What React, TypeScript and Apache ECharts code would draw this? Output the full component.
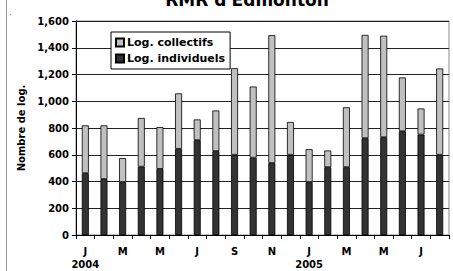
import React, { useEffect, useRef } from "react";
import * as echarts from "echarts";

const months = ["J", "F", "M", "A", "M", "J", "J", "A", "S", "O", "N", "D", "J", "F", "M", "A", "M", "J", "J", "A"];
const years = ["2004", "", "", "", "", "", "", "", "", "", "", "", "2005", "", "", "", "", "", "", ""];
const individuels = [462, 418, 395, 511, 494, 644, 709, 627, 600, 578, 538, 600, 395, 507, 507, 724, 731, 776, 751, 600];
const collectifs = [358, 402, 180, 364, 313, 415, 155, 304, 647, 532, 956, 245, 247, 125, 448, 772, 759, 402, 195, 645];
const yTicks = { min: 0, max: 1600, interval: 200 };

const FONT = "DejaVu Sans";

export default function App() {
  const ref = useRef<HTMLDivElement>(null);
  useEffect(() => {
    const chart = echarts.init(ref.current!, null, { renderer: "svg" });
    const cats = months.map((m, i) => (years[i] ? m + "\n" + years[i] : m));
    chart.setOption({
      animation: false,
      backgroundColor: "#fff",
      textStyle: { fontFamily: FONT },
      title: {
        text: "RMR d'Edmonton",
        left: 242,
        textAlign: "center",
        top: -14,
        textStyle: { fontFamily: FONT, fontWeight: "bold", fontSize: 17, color: "#000" },
      },
      grid: {
        left: 76,
        top: 21,
        right: 4,
        bottom: 35,
        show: true,
        borderColor: "#8a8a8a",
        borderWidth: 1,
      },
      legend: {
        left: 111,
        top: 32,
        orient: "vertical",
        backgroundColor: "#fff",
        borderColor: "#000",
        borderWidth: 1,
        padding: [5, 5, 5, 4],
        itemGap: 5,
        itemWidth: 8,
        itemHeight: 8,
        icon: "rect",
        data: ["Log. collectifs", "Log. individuels"],
        textStyle: { fontFamily: FONT, fontWeight: "bold", fontSize: 11, color: "#000", padding: [0, 0, 0, -2] },
      },
      xAxis: {
        type: "category",
        data: cats,
        axisLine: { lineStyle: { color: "#000", width: 1 } },
        axisTick: { show: true, interval: 0, length: 4, lineStyle: { color: "#000" } },
        axisLabel: {
          interval: 1,
          margin: 10,
          fontFamily: FONT,
          fontWeight: "bold",
          fontSize: 10,
          lineHeight: 13,
          color: "#000",
        },
      },
      yAxis: {
        type: "value",
        min: yTicks.min,
        max: yTicks.max,
        interval: yTicks.interval,
        name: "Nombre de log.",
        nameLocation: "middle",
        nameGap: 48,
        nameRotate: 90,
        nameTextStyle: { fontFamily: FONT, fontWeight: "bold", fontSize: 10, color: "#000" },
        axisLine: { show: true, lineStyle: { color: "#000" } },
        axisTick: { show: true, length: 4, lineStyle: { color: "#000" } },
        splitLine: { show: true, lineStyle: { color: "#222", width: 1 } },
        axisLabel: {
          margin: 7,
          fontFamily: FONT,
          fontWeight: "bold",
          fontSize: 10,
          color: "#000",
          formatter: (v: number) => v.toLocaleString("en-US"),
        },
      },
      series: [
        {
          name: "Log. individuels",
          type: "bar",
          stack: "t",
          data: individuels,
          barWidth: 7,
          itemStyle: { color: "#333333", borderColor: "#000", borderWidth: 0.8 },
        },
        {
          name: "Log. collectifs",
          type: "bar",
          stack: "t",
          data: collectifs,
          barWidth: 7,
          itemStyle: { color: "#c0c0c0", borderColor: "#000", borderWidth: 0.8 },
        },
      ],
      graphic: [
        { type: "line", shape: { x1: 6.5, y1: 0, x2: 6.5, y2: 271 }, style: { stroke: "#999", lineWidth: 1 } },
        { type: "rect", shape: { x: 10, y: 14, width: 1, height: 1 }, style: { fill: "#999" } },
      ],
    });
    return () => chart.dispose();
  }, []);
  return <div ref={ref} style={{ width: 453, height: 271, position: "absolute", left: 0, top: 0 }} />;
}
